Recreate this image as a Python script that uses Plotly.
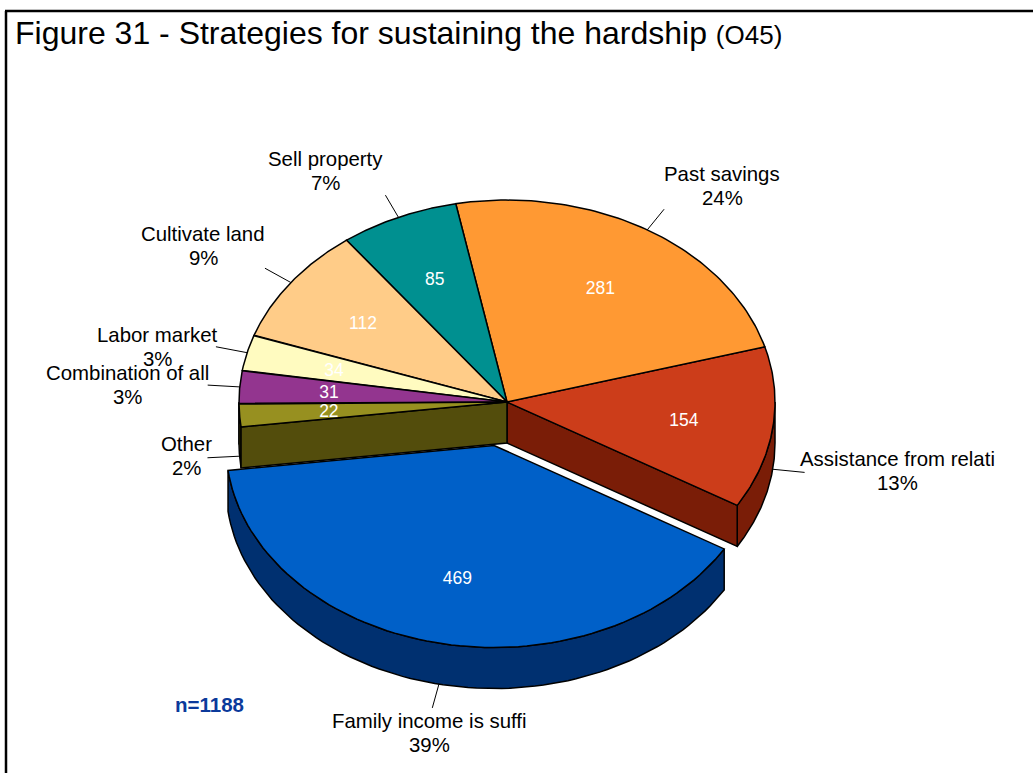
import numpy as np
import plotly.graph_objects as go

categories = ["Assistance from relati", "Past savings", "Sell property", "Cultivate land",
              "Labor market", "Combination of all", "Other", "Family income is suffi"]
counts = [154, 281, 85, 112, 34, 31, 22, 469]
percent_labels = ["13%", "24%", "7%", "9%", "3%", "3%", "2%", "39%"]
top_colors = ["#CC3D1A", "#FF9933", "#009090", "#FFCC88", "#FFFBC0", "#93358F", "#979020", "#0060C8"]
side_colors = ["#7A1D07", "#B36B24", "#006565", "#B38F5F", "#B3B086", "#672564", "#534D0C", "#003070"]
pulled_category = "Family income is suffi"
sample_note = "n=1188"
title_main = "Figure 31 - Strategies for sustaining the hardship"
title_code = "(O45)"

# Pie projection, in the pixel units of the axes below
CX, CY = 507.0, 402.0
RX, RY = 268.0, 202.0
DEPTH = 41.0
START_DEG = -30.8
PULL = (-13.0, 43.5)
FONT = "Liberation Sans, Arial, sans-serif"
LABEL_SIZE = 20.4
LINE_GAP = 24

# Centre of each outside label, keyed by category
label_centres = {
    "Sell property": (325, 171), "Past savings": (722, 186), "Cultivate land": (203, 246),
    "Labor market": (157, 347), "Combination of all": (127, 385), "Other": (186, 456),
    "Assistance from relati": (897, 471), "Family income is suffi": (429, 733),
}

total = sum(counts)
spans = [c / total * 360.0 for c in counts]
edges = START_DEG + np.concatenate([[0.0], np.cumsum(spans)])


def rim(a0, a1, cx, cy, n=80):
    t = np.radians(np.linspace(a0, a1, n))
    return cx + RX * np.cos(t), cy - RY * np.sin(t)


def polygon(fig, xs, ys, color, width=1.5):
    fig.add_trace(go.Scatter(x=xs, y=ys, mode="lines", fill="toself", fillcolor=color,
                             line=dict(color="black", width=width), hoverinfo="skip",
                             showlegend=False))


def outer_wall(fig, a0, a1, cx, cy, color):
    x, y = rim(a0, a1, cx, cy)
    polygon(fig, np.r_[x, x[::-1], x[0]], np.r_[y, y[::-1] + DEPTH, y[0]], color)


def cut_wall(fig, a, cx, cy, color):
    x, y = rim(a, a, cx, cy, n=1)
    polygon(fig, [cx, x[0], x[0], cx, cx], [cy, y[0], y[0] + DEPTH, cy + DEPTH, cy], color)


def top_face(fig, a0, a1, cx, cy, color):
    x, y = rim(a0, a1, cx, cy)
    polygon(fig, np.r_[cx, x, cx], np.r_[cy, y, cy], color)


fig = go.Figure()
pulled = categories.index(pulled_category)

# Walls of the body that stay visible once the pulled slice is moved away
for i in range(len(counts)):
    if i == pulled:
        continue
    a0, a1 = edges[i], edges[i + 1]
    if a0 < 0:
        outer_wall(fig, a0, min(a1, 0.0), CX, CY, side_colors[i])
    if a1 > 180:
        outer_wall(fig, max(a0, 180.0), a1, CX, CY, side_colors[i])
    if i == pulled - 1:
        cut_wall(fig, a1, CX, CY, side_colors[i])
    if i == (pulled + 1) % len(counts):
        cut_wall(fig, a0, CX, CY, side_colors[i])

for i in range(len(counts)):
    if i != pulled:
        top_face(fig, edges[i], edges[i + 1], CX, CY, top_colors[i])

# The pulled slice goes in front of everything else
px, py = CX + PULL[0], CY + PULL[1]
outer_wall(fig, edges[pulled], edges[pulled + 1], px, py, side_colors[pulled])
top_face(fig, edges[pulled], edges[pulled + 1], px, py, top_colors[pulled])

# Counts inside the slices, leader lines and outside labels
val_x, val_y = [], []
for i, cat in enumerate(categories):
    mid = (edges[i] + edges[i + 1]) / 2
    t = np.radians(mid)
    cx, cy = (px, py) if i == pulled else (CX, CY)
    val_x.append(cx + 0.666 * RX * np.cos(t))
    val_y.append(cy - 0.666 * RY * np.sin(t) + 2)
    drop = DEPTH if np.sin(t) < 0 else 0.0
    fig.add_trace(go.Scatter(
        x=[cx + RX * np.cos(t), cx + 1.12 * RX * np.cos(t)],
        y=[cy - RY * np.sin(t) + drop, cy - 1.12 * RY * np.sin(t) + drop],
        mode="lines", line=dict(color="black", width=1), hoverinfo="skip", showlegend=False))
    lx, ly = label_centres[cat]
    for line_text, line_y in ((cat, ly - LINE_GAP / 2), (percent_labels[i], ly + LINE_GAP / 2)):
        fig.add_annotation(x=lx, y=line_y, text=line_text, showarrow=False,
                           font=dict(family=FONT, size=LABEL_SIZE, color="black"),
                           xanchor="center", yanchor="middle")

fig.add_trace(go.Scatter(x=val_x, y=val_y, mode="text", text=[str(c) for c in counts],
                         textposition="middle center",
                         textfont=dict(family=FONT, size=17.5, color="white"),
                         hoverinfo="skip", showlegend=False))

fig.add_annotation(x=13, y=33, text=f"{title_main} <span style='font-size:26px'>{title_code}</span>",
                   showarrow=False, xanchor="left", yanchor="middle",
                   font=dict(family=FONT, size=32, color="black"))
fig.add_annotation(x=209, y=704, text=f"<b>{sample_note}</b>", showarrow=False,
                   font=dict(family=FONT, size=20.5, color="#0B3A9B"))

# Frame of the figure
fig.add_shape(type="line", x0=6, x1=6, y0=11, y1=773, line=dict(color="black", width=2.5))
fig.add_shape(type="line", x0=5, x1=1033, y0=11, y1=11, line=dict(color="black", width=2.5))

fig.update_layout(
    width=1033, height=773, margin=dict(l=0, r=0, t=0, b=0),
    paper_bgcolor="white", plot_bgcolor="white", showlegend=False,
    xaxis=dict(range=[0, 1033], visible=False, fixedrange=True),
    yaxis=dict(range=[773, 0], visible=False, fixedrange=True),
)
fig.write_html("out.html", config={"displayModeBar": False})
